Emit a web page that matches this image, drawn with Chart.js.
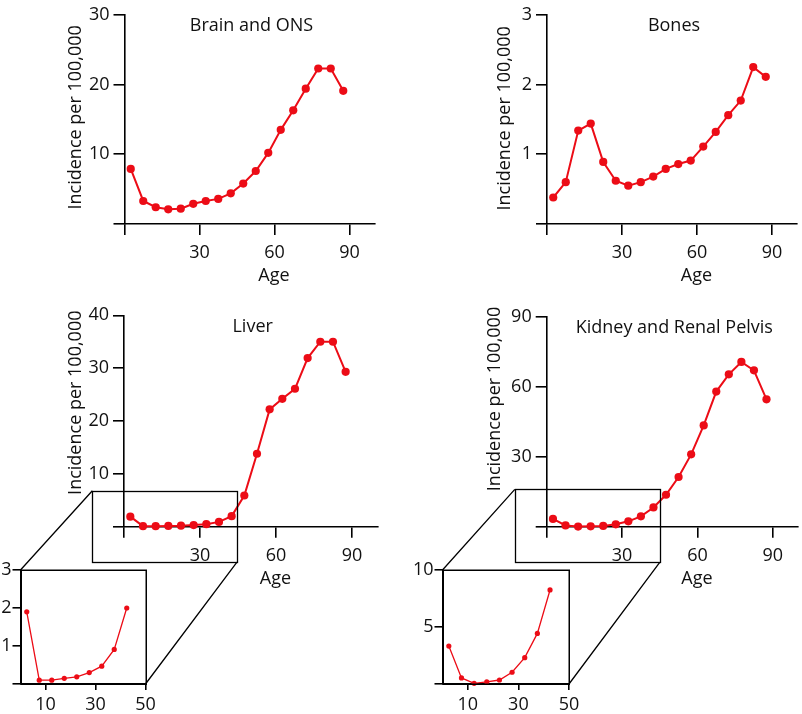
<!DOCTYPE html>
<html><head><meta charset="utf-8">
<script src="https://cdn.jsdelivr.net/npm/chart.js@4/dist/chart.umd.min.js"></script>
<style>
html,body{margin:0;padding:0;background:#fff;}
#wrap{position:relative;width:802px;height:714px;overflow:hidden;background:#fff;}
canvas{position:absolute;}
</style></head><body><div id="wrap">
<canvas id="cBrain" width="400" height="290" style="left:0;top:0"></canvas>
<canvas id="cBones" width="402" height="290" style="left:400px;top:0"></canvas>
<canvas id="cLiver" width="400" height="300" style="left:0;top:290px"></canvas>
<canvas id="cKidney" width="402" height="300" style="left:400px;top:290px"></canvas>
<canvas id="cLiverInset" width="170" height="164" style="left:0;top:550px"></canvas>
<canvas id="cKidneyInset" width="190" height="164" style="left:400px;top:550px"></canvas>
<canvas id="overlay" width="802" height="714" style="left:0;top:0;pointer-events:none"></canvas>
</div>
<script>
// ---------- DATA ----------
const ages = [2.5, 7.5, 12.5, 17.5, 22.5, 27.5, 32.5, 37.5, 42.5, 47.5, 52.5, 57.5, 62.5, 67.5, 72.5, 77.5, 82.5, 87.5];
const brainValues  = [7.9, 3.3, 2.4, 2.1, 2.2, 2.9, 3.3, 3.6, 4.4, 5.8, 7.6, 10.2, 13.5, 16.3, 19.4, 22.3, 22.3, 19.1];
const bonesValues  = [0.38, 0.6, 1.34, 1.44, 0.89, 0.62, 0.55, 0.6, 0.68, 0.79, 0.86, 0.91, 1.11, 1.32, 1.56, 1.77, 2.25, 2.11];
const liverValues  = [1.9, 0.1, 0.1, 0.15, 0.19, 0.3, 0.47, 0.91, 2.0, 5.9, 13.8, 22.2, 24.2, 26.1, 31.9, 35.0, 35.0, 29.3];
const kidneyValues = [3.33, 0.53, 0.06, 0.18, 0.35, 1.03, 2.31, 4.44, 8.25, 13.7, 21.3, 31.0, 43.4, 57.9, 65.3, 70.6, 67.0, 54.6];
const insetCount = 9; // insets show the first nine age groups

const mainXTicks = [0, 30, 60, 90];
const brainYTicks = [0, 10, 20, 30];
const bonesYTicks = [0, 1, 2, 3];
const liverYTicks = [0, 10, 20, 30, 40];
const kidneyYTicks = [0, 30, 60, 90];
const insetXTicks = [10, 30, 50];
const liverInsetYTicks = [0, 1, 2, 3];
const kidneyInsetYTicks = [0, 5, 10];

const panelTitles = ['Brain and ONS', 'Bones', 'Liver', 'Kidney and Renal Pelvis'];
const xTitle = 'Age';
const yTitle = 'Incidence per 100,000';

// ---------- STYLE / LAYOUT ----------
const RED = 'rgb(236,12,22)';
const FONT = "'Open Sans', sans-serif";
Chart.defaults.font.family = FONT;
Chart.defaults.font.size = 18;
Chart.defaults.color = '#111';

const textPlugin = {
  id: 'panelText',
  afterDraw(chart, args, o) {
    if (!o || !o.title) return;
    const {ctx, chartArea: ca, scales} = chart;
    ctx.save();
    ctx.fillStyle = '#111';
    ctx.font = '18px ' + FONT;
    ctx.textAlign = 'center';
    ctx.textBaseline = 'middle';
    ctx.fillText(o.title, scales.x.getPixelForValue(o.titleAt), ca.top + o.titleDy);
    ctx.fillText(o.xTitle, scales.x.getPixelForValue(o.xTitleAt), ca.bottom + o.xTitleDy);
    ctx.translate(ca.left + o.yTitleDx, ca.top + o.yTitleDy);
    ctx.rotate(-Math.PI / 2);
    ctx.fillText(o.yTitle, 0, 0);
    ctx.restore();
  }
};
const boxPlugin = {
  id: 'insetBox',
  afterDraw(chart, args, o) {
    if (!o || !o.on) return;
    const {ctx, chartArea: ca} = chart;
    ctx.save();
    ctx.strokeStyle = '#000';
    ctx.lineWidth = 1.5;
    ctx.strokeRect(Math.round(ca.left) + 0.25, Math.round(ca.top) + 0.25, Math.round(ca.right) - Math.round(ca.left), Math.round(ca.bottom) - Math.round(ca.top));
    ctx.restore();
  }
};

function pts(xs, ys) { return ys.map((y, i) => ({x: xs[i], y})); }

function makeChart(id, xs, values, xTicks, xMax, yTicks, yMax, area, style, text, box) {
  const cv = document.getElementById(id);
  return new Chart(cv, {
    type: 'line',
    data: {datasets: [{
      data: pts(xs, values), borderColor: RED, backgroundColor: RED,
      borderWidth: style.lw, pointRadius: style.r, pointBackgroundColor: RED,
      pointBorderWidth: 0, tension: 0, clip: false
    }]},
    options: {
      responsive: false, animation: false, devicePixelRatio: 1,
      layout: {padding: {left: 0, top: area.top, right: cv.width - area.right, bottom: 0}},
      plugins: {legend: {display: false}, tooltip: {enabled: false}, panelText: text, insetBox: box},
      scales: {
        x: {
          type: 'linear', min: 0, max: xMax,
          afterBuildTicks: s => { s.ticks = xTicks.map(v => ({value: v})); },
          afterFit: s => { s.height = cv.height - area.bottom; },
          grid: {drawOnChartArea: false, drawTicks: true, tickLength: style.xtl, color: '#000', lineWidth: 1.6},
          border: {color: '#000', width: 1.6},
          ticks: {padding: style.xpad, color: '#111', autoSkip: false, maxRotation: 0,
                  callback: v => v === 0 ? '' : String(v)}
        },
        y: {
          type: 'linear', min: 0, max: yMax,
          afterBuildTicks: s => { s.ticks = yTicks.map(v => ({value: v})); },
          afterFit: s => { s.width = area.left; },
          grid: {drawOnChartArea: false, drawTicks: true, tickLength: style.ytl, color: '#000', lineWidth: 1.6},
          border: {color: '#000', width: 1.6},
          ticks: {padding: style.ypad, color: '#111', autoSkip: false,
                  callback: v => v === 0 ? '' : String(v)}
        }
      }
    },
    plugins: [textPlugin, boxPlugin]
  });
}

const mainStyle = {lw: 2, r: 4.1, xtl: 11, ytl: 11, xpad: 7, ypad: 4};
const insetStyle = {lw: 1.3, r: 2.6, xtl: 6, ytl: 8, xpad: 4, ypad: 1};

function txt(i, dx, dy) {
  return {title: panelTitles[i], titleAt: 50.8, titleDy: 11.5,
          xTitle: xTitle, xTitleAt: 59.8, xTitleDy: 52,
          yTitle: yTitle, yTitleDx: dx, yTitleDy: dy};
}

function build() {
  const brain = makeChart('cBrain', ages, brainValues, mainXTicks, 100, brainYTicks, 30,
    {left: 124.5, top: 14, right: 374.5, bottom: 224}, mainStyle, txt(0, -48.7, 102.5), null);
  const bones = makeChart('cBones', ages, bonesValues, mainXTicks, 100, bonesYTicks, 3,
    {left: 147, top: 13.5, right: 397, bottom: 224}, mainStyle, txt(1, -42.5, 103.5), null);
  const liver = makeChart('cLiver', ages, liverValues, mainXTicks, 100, liverYTicks, 40,
    {left: 124, top: 25.3, right: 377.3, bottom: 236.7}, mainStyle, txt(2, -48.2, 87.4), null);
  const kidney = makeChart('cKidney', ages, kidneyValues, mainXTicks, 100, kidneyYTicks, 90,
    {left: 146.7, top: 26.7, right: 397.9, bottom: 236.7}, mainStyle, txt(3, -52.2, 82.3), null);
  const liverInset = makeChart('cLiverInset', ages.slice(0, insetCount), liverValues.slice(0, insetCount), insetXTicks, 50, liverInsetYTicks, 3,
    {left: 20.5, top: 20, right: 145.5, bottom: 134}, insetStyle, null, {on: true});
  const kidneyInset = makeChart('cKidneyInset', ages.slice(0, insetCount), kidneyValues.slice(0, insetCount), insetXTicks, 50, kidneyInsetYTicks, 10,
    {left: 42.5, top: 20, right: 169, bottom: 134}, insetStyle, null, {on: true});

  // zoom rectangles (in data units of the main panels) and connectors to the insets
  const zooms = [
    {main: liver, inset: liverInset, box: {x0: -12.5, x1: 44.6, y0: -6.7, y1: 6.8}},
    {main: kidney, inset: kidneyInset, box: {x0: -12.7, x1: 45, y0: -15.3, y1: 16}}
  ];
  const ov = document.getElementById('overlay').getContext('2d');
  ov.strokeStyle = '#000';
  ov.lineWidth = 1.3;
  zooms.forEach(z => {
    const mc = z.main.canvas, ic = z.inset.canvas;
    const mx = mc.offsetLeft, my = mc.offsetTop, ix = ic.offsetLeft, iy = ic.offsetTop;
    const L = mx + z.main.scales.x.getPixelForValue(z.box.x0);
    const R = mx + z.main.scales.x.getPixelForValue(z.box.x1);
    const T = my + z.main.scales.y.getPixelForValue(z.box.y1);
    const B = my + z.main.scales.y.getPixelForValue(z.box.y0);
    ov.strokeRect(Math.round(L) + 0.5, Math.round(T) + 0.5, Math.round(R - L), Math.round(B - T));
    const ca = z.inset.chartArea;
    ov.beginPath();
    ov.moveTo(L, T); ov.lineTo(ix + ca.left, iy + ca.top);
    ov.moveTo(R, B); ov.lineTo(ix + ca.right, iy + ca.bottom);
    ov.stroke();
  });
}

if (document.fonts && document.fonts.load) {
  document.fonts.load('18px "Open Sans"').then(build, build);
} else { build(); }
</script>
</body></html>
